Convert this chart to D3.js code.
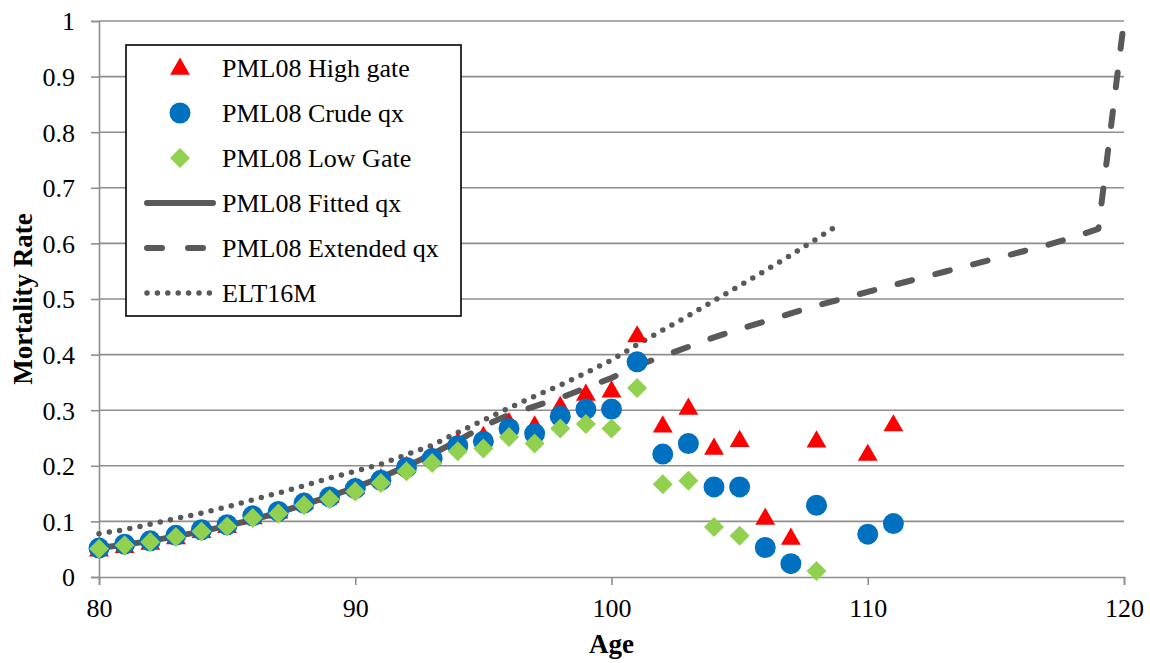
<!DOCTYPE html>
<html>
<head>
<meta charset="utf-8">
<script src="https://cdn.jsdelivr.net/npm/d3@7/dist/d3.min.js"></script>
<style>
  html, body { margin: 0; padding: 0; background: #fff; }
  svg text { font-family: "Liberation Serif", "Times New Roman", Times, "DejaVu Serif", serif; }
</style>
</head>
<body>
<svg id="chart" width="1150" height="663"></svg>
<script>
// Observed ages for the crude experience and the two gates
const ages = [80, 81, 82, 83, 84, 85, 86, 87, 88, 89, 90, 91, 92, 93, 94, 95,
              96, 97, 98, 99, 100, 101, 102, 103, 104, 105, 106, 107, 108, 109, 110, 111];

const highGate = [0.050, 0.056, 0.062, 0.072, 0.083, 0.092, 0.108, 0.118, 0.135, 0.146, 0.162, 0.178, 0.200, 0.218, 0.243, 0.254,
                  0.279, 0.273, 0.308, 0.330, 0.336, 0.435, 0.273, 0.305, 0.233, 0.247, 0.107, 0.071, 0.246, null, 0.222, 0.275];

const crudeQx = [0.052, 0.059, 0.065, 0.075, 0.085, 0.094, 0.110, 0.118, 0.133, 0.144, 0.159, 0.174, 0.197, 0.213, 0.236, 0.244,
                 0.267, 0.258, 0.289, 0.302, 0.302, 0.387, 0.221, 0.240, 0.162, 0.162, 0.053, 0.024, 0.129, null, 0.077, 0.096];

const lowGate = [0.051, 0.057, 0.063, 0.072, 0.082, 0.091, 0.106, 0.114, 0.129, 0.140, 0.154, 0.169, 0.190, 0.205, 0.226, 0.231,
                 0.252, 0.240, 0.267, 0.275, 0.267, 0.340, 0.167, 0.173, 0.090, 0.074, null, null, 0.011, null, null, null];

// Graduated rates
const fittedAges = [80, 81, 82, 83, 84, 85, 86, 87, 88, 89, 90, 91, 92, 93, 94];
const fittedQx = [0.052, 0.058, 0.065, 0.073, 0.082, 0.092, 0.103, 0.116, 0.130, 0.145, 0.161, 0.179, 0.199, 0.221, 0.245];

const extendedAges = [94, 95, 96, 97, 98, 99, 100, 101, 102, 103, 104, 105, 106, 107,
                      108, 109, 110, 111, 112, 113, 114, 115, 116, 117, 118, 119, 120];
const extendedQx = [0.245, 0.271, 0.292, 0.307, 0.322, 0.340, 0.358, 0.380, 0.397, 0.414, 0.431, 0.446, 0.460, 0.474,
                    0.488, 0.500, 0.513, 0.525, 0.537, 0.549, 0.561, 0.573, 0.585, 0.597, 0.611, 0.626, 1.000];

// English Life Table No. 16, males
const eltAges = [80, 81, 82, 83, 84, 85, 86, 87, 88, 89, 90, 91, 92, 93, 94,
                 95, 96, 97, 98, 99, 100, 101, 102, 103, 104, 105, 106, 107, 108, 108.8];
const eltQx = [0.078, 0.085, 0.095, 0.105, 0.115, 0.126, 0.139, 0.151, 0.164, 0.178, 0.190, 0.203, 0.220, 0.237, 0.260,
               0.282, 0.304, 0.325, 0.345, 0.367, 0.390, 0.418, 0.444, 0.470, 0.497, 0.524, 0.551, 0.579, 0.608, 0.632];

const xTicks = [80, 90, 100, 110, 120];
const yTicks = [0, 0.1, 0.2, 0.3, 0.4, 0.5, 0.6, 0.7, 0.8, 0.9, 1];

const legendLabels = ["PML08 High gate", "PML08 Crude qx", "PML08 Low Gate",
                      "PML08 Fitted qx", "PML08 Extended qx", "ELT16M"];

const serif = '"Liberation Serif", "Times New Roman", Times, "DejaVu Serif", serif';

const svg = d3.select("#chart");
const x = d3.scaleLinear().domain([80, 120]).range([99, 1124]);
const y = d3.scaleLinear().domain([0, 1]).range([577, 21]);

const gridColor = "#8e8e8e";
const lineColor = "#595959";
const red = "#ff0000", blue = "#0070c0", green = "#92d050";

// Horizontal gridlines
svg.append("g").selectAll("line").data(yTicks.slice(1)).join("line")
  .attr("x1", x(80)).attr("x2", x(120))
  .attr("y1", d => y(d)).attr("y2", d => y(d))
  .attr("stroke", gridColor).attr("stroke-width", 1.6);

// Y axis
const yAxis = svg.append("g").attr("transform", `translate(${x(80)},0)`)
  .call(d3.axisLeft(y).tickValues(yTicks).tickFormat(d3.format("")).tickSize(8).tickPadding(16));
yAxis.attr("font-family", null).attr("font-size", null);
yAxis.select(".domain").attr("stroke", gridColor).attr("stroke-width", 1.6);
yAxis.selectAll(".tick line").attr("stroke", gridColor).attr("stroke-width", 1.6);
yAxis.selectAll(".tick text").style("font-size", "26px").style("font-family", serif)
  .attr("fill", "#000").attr("dy", "0.34em");

// X axis
const xAxis = svg.append("g").attr("transform", `translate(0,${y(0)})`)
  .call(d3.axisBottom(x).tickValues(xTicks).tickFormat(d3.format("")).tickSize(8).tickPadding(14));
xAxis.attr("font-family", null).attr("font-size", null);
xAxis.select(".domain").attr("stroke", gridColor).attr("stroke-width", 1.6);
xAxis.selectAll(".tick line").attr("stroke", gridColor).attr("stroke-width", 1.6);
xAxis.selectAll(".tick text").style("font-size", "26px").style("font-family", serif)
  .attr("fill", "#000").attr("dy", "0.71em");

// Axis titles
svg.append("text").attr("x", x(100)).attr("y", 653).attr("text-anchor", "middle")
  .style("font-size", "27px").style("font-family", serif).attr("font-weight", "bold").text("Age");
svg.append("text").attr("transform", `translate(32,${y(0.5)}) rotate(-90)`)
  .attr("text-anchor", "middle").style("font-size", "27px").style("font-family", serif)
  .attr("font-weight", "bold").text("Mortality Rate");

// Lines
const line = d3.line().x(d => x(d[0])).y(d => y(d[1]));
const pairs = (xs, ys) => xs.map((a, i) => [a, ys[i]]);

svg.append("path").datum(pairs(eltAges, eltQx)).attr("d", line)
  .attr("fill", "none").attr("stroke", lineColor).attr("stroke-width", 5.5)
  .attr("stroke-linecap", "round").attr("stroke-dasharray", "0 10.4");

svg.append("path").datum(pairs(extendedAges, extendedQx)).attr("d", line)
  .attr("fill", "none").attr("stroke", lineColor).attr("stroke-width", 6)
  .attr("stroke-linecap", "round").attr("stroke-linejoin", "round").attr("stroke-dasharray", "15 24");

svg.append("path").datum(pairs(fittedAges, fittedQx)).attr("d", line)
  .attr("fill", "none").attr("stroke", lineColor).attr("stroke-width", 6)
  .attr("stroke-linejoin", "round");

// Markers
const triangle = d3.symbol().type(d3.symbolTriangle).size(170);
const circle = d3.symbol().type(d3.symbolCircle).size(Math.PI * 10.5 * 10.5);
const diamond = d3.symbol().type(d3.symbolSquare).size(200);

function markers(vals, sym, color, extra) {
  svg.append("g").selectAll("path")
    .data(ages.map((a, i) => [a, vals[i]]).filter(d => d[1] != null))
    .join("path")
    .attr("d", sym)
    .attr("transform", d => `translate(${x(d[0])},${y(d[1])})${extra || ""}`)
    .attr("fill", color);
}
markers(highGate, triangle, red, " translate(0,1.5)");
markers(crudeQx, circle, blue);
markers(lowGate, diamond, green, " rotate(45)");

// Legend
const lg = svg.append("g");
lg.append("rect").attr("x", 126).attr("y", 45).attr("width", 335).attr("height", 271)
  .attr("fill", "#fff").attr("stroke", "#000").attr("stroke-width", 1.6);
const rowY = i => 68 + i * 45;
legendLabels.forEach((t, i) => {
  lg.append("text").attr("x", 222).attr("y", rowY(i)).attr("dy", "0.35em")
    .style("font-size", "26px").style("font-family", serif).attr("fill", "#000").text(t);
});
lg.append("path").attr("d", triangle).attr("fill", red).attr("transform", `translate(180,${rowY(0) + 1})`);
lg.append("path").attr("d", circle).attr("fill", blue).attr("transform", `translate(180,${rowY(1)})`);
lg.append("path").attr("d", diamond).attr("fill", green).attr("transform", `translate(180,${rowY(2)}) rotate(45)`);
lg.append("line").attr("x1", 147).attr("x2", 213).attr("y1", rowY(3)).attr("y2", rowY(3))
  .attr("stroke", lineColor).attr("stroke-width", 6).attr("stroke-linecap", "round");
lg.append("line").attr("x1", 147).attr("x2", 213).attr("y1", rowY(4)).attr("y2", rowY(4))
  .attr("stroke", lineColor).attr("stroke-width", 6).attr("stroke-linecap", "round")
  .attr("stroke-dasharray", "15 26");
lg.append("line").attr("x1", 147).attr("x2", 213).attr("y1", rowY(5)).attr("y2", rowY(5))
  .attr("stroke", lineColor).attr("stroke-width", 5.5).attr("stroke-linecap", "round")
  .attr("stroke-dasharray", "0 10.4");
</script>
</body>
</html>
